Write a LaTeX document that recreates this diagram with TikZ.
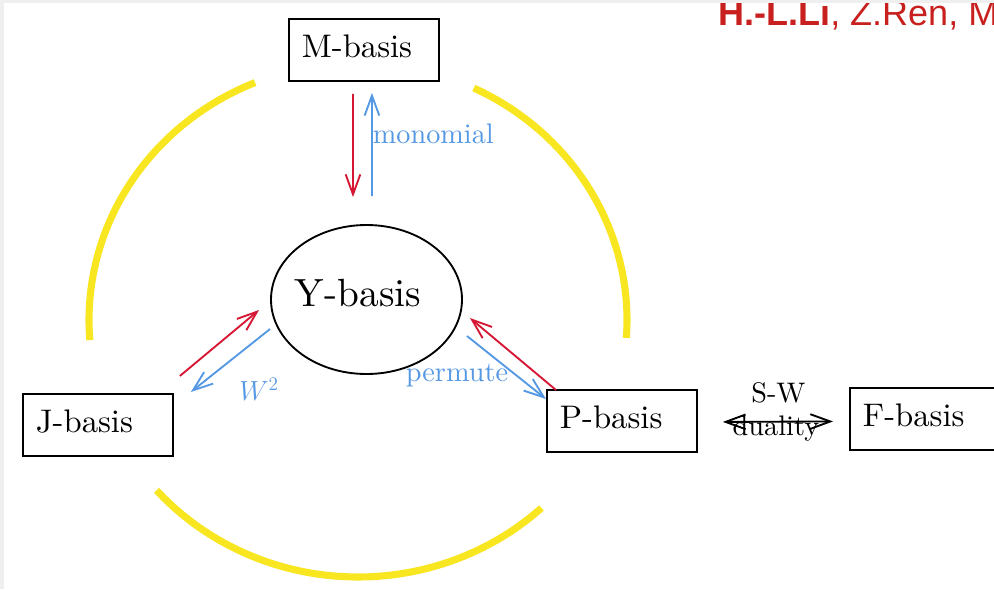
\documentclass[tikz,border=0pt]{standalone}
\usepackage{fontspec}
\setmainfont{lmroman10-regular}[Extension=.otf, BoldFont=lmroman10-bold, ItalicFont=lmroman10-italic]
\newfontfamily\arialfont{Liberation Sans}
\usetikzlibrary{arrows.meta,shapes.geometric,calc}
\definecolor{bggray}{RGB}{239,239,239}
\definecolor{yel}{RGB}{247,230,32}
\definecolor{arrred}{RGB}{214,22,50}
\definecolor{arrblue}{RGB}{85,152,228}
\definecolor{authred}{RGB}{200,32,30}
\begin{document}
\begin{tikzpicture}[x=0.75pt,y=-0.75pt,
  basisbox/.style={draw, line width=1.4pt, rectangle, anchor=north west,
    minimum width=112.5pt, minimum height=46.5pt, inner xsep=9.75pt,
    text width=93pt, align=left, text height=17.3pt, text depth=5.4pt,
    font=\fontsize{24.5}{29}\selectfont},
  yarc/.style={draw=yel, line width=5.3pt},
  tipd/.style={-{Straight Barb[length=15pt,width=11pt]}},
  redarr/.style={draw=arrred, line width=1.4pt, tipd},
  bluearr/.style={draw=arrblue, line width=1.4pt, tipd},
  lbl/.style={inner sep=0pt, font=\fontsize{21.2}{25}\selectfont},
]
\useasboundingbox (0,0) rectangle (994,589);
\clip (0,0) rectangle (994,589);
\fill[white] (0,0) rectangle (994,589);

% yellow arcs
\draw[yarc] plot[domain=112.5:184.5, samples=60] ({358+269*cos(\x)},{320-257*sin(\x)});
\draw[yarc] plot[domain=-4:64.5, samples=60] ({358+269*cos(\x)},{320-257*sin(\x)});
\draw[yarc] plot[domain=221.5:313, samples=80] ({358+269*cos(\x)},{320-257*sin(\x)});

% nodes
\node[basisbox] (M) at (288,18) {M-basis};
\node[basisbox] (J) at (22,393) {J-basis};
\node[basisbox] (P) at (546,389) {P-basis};
\node[basisbox] (F) at (849,387) {F-basis};
\node[draw, ellipse, line width=1.4pt, minimum width=143.25pt, minimum height=111.75pt, inner sep=0pt] (Y) at (366.5,299.5) {};
\node[inner sep=0pt, font=\fontsize{29.5}{35}\selectfont] (Yt) at (358,293.5) {Y-basis};

% M <-> Y
\draw[redarr] ([shift={(-11,12)}]M.south) -- ([shift={(-13.5,-27)}]Y.north);
\draw[bluearr] ([shift={(5.5,-28)}]Y.north) -- node[lbl, pos=0.6, anchor=west, text=arrblue] {monomial} ([shift={(8,11)}]M.south);

% J <-> Y
\draw[redarr] ([shift={(6,-17)}]J.north east) -- ([shift={(-11,10.5)}]Y.west);
\draw[bluearr] ([shift={(0,29.5)}]Y.west) -- ([shift={(17,-1)}]J.north east);
\node[lbl, text=arrblue] (w2) at (259,389) {$W^2$};

% P <-> Y
\draw[redarr] ([shift={(10,1)}]P.north west) -- ([shift={(7,18.5)}]Y.east);
\draw[bluearr] ([shift={(4,36.5)}]Y.east) -- ([shift={(0,10)}]P.north west);
\node[lbl, text=arrblue] (perm) at (457,376) {permute};

% S-W duality
\draw[line width=1.4pt, {Straight Barb[length=15pt,width=11pt]}-{Straight Barb[length=15pt,width=11pt]}]
  ([shift={(25,1)}]P.east) -- coordinate[midway] (sw) ([shift={(-16,2.5)}]F.west);
\node[lbl] (swl) at ([shift={(0.5,-28.5)}]sw) {S-W};
\node[lbl] (dual) at ([shift={(-2,7)}]sw) {duality};

% author text
\node[anchor=base west, inner sep=0pt, text=authred, font=\arialfont\fontsize{27}{32}\selectfont] (auth) at (718,26) {\textbf{H.-L.Li}, Z.Ren, M};

% gray frame strips
\fill[bggray] (0,0) rectangle (994,3);
\fill[bggray] (0,0) rectangle (4,589);
\end{tikzpicture}
\end{document}
